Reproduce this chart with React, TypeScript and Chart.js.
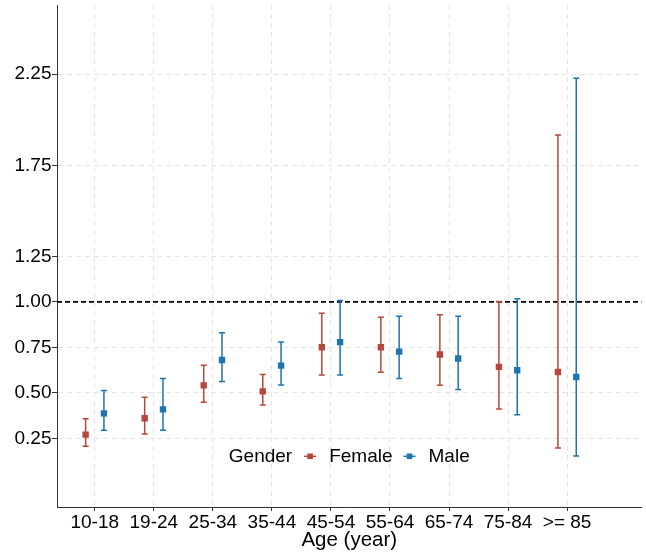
import React, { useEffect, useRef } from "react";
import { Chart, registerables } from "chart.js";

Chart.register(...registerables);

const categories = ["10-18", "19-24", "25-34", "35-44", "45-54", "55-64", "65-74", "75-84", ">= 85"];
const groupNames = ["Female", "Male"];
const femaleEstimate = [0.271, 0.361, 0.542, 0.509, 0.751, 0.751, 0.711, 0.643, 0.615];
const femaleLower = [0.207, 0.275, 0.449, 0.434, 0.599, 0.614, 0.542, 0.412, 0.198];
const femaleUpper = [0.359, 0.476, 0.652, 0.601, 0.938, 0.916, 0.929, 1.002, 1.916];
const maleEstimate = [0.388, 0.41, 0.681, 0.65, 0.779, 0.727, 0.689, 0.625, 0.588];
const maleLower = [0.295, 0.295, 0.563, 0.544, 0.599, 0.579, 0.519, 0.381, 0.154];
const maleUpper = [0.513, 0.579, 0.83, 0.78, 1.008, 0.921, 0.921, 1.017, 2.228];
const yTicks = [0.25, 0.5, 0.75, 1.0, 1.25, 1.75, 2.25];
const referenceValue = 1.0;
const legendTitle = "Gender";
const xTitle = "Age (year)";

const FEMALE_COLOR = "#B5473A";
const MALE_COLOR = "#1C74B0";
const FONT = "'Liberation Sans', Arial, sans-serif";
const FONT_SIZE = 19;
const DODGE = 0.155;

const errorBarPlugin = {
  id: "errorBars",
  beforeDatasetsDraw(chart: any) {
    const { ctx, chartArea, scales } = chart;
    const y = scales.y;
    const yr = y.getPixelForValue(referenceValue);
    ctx.save();
    ctx.strokeStyle = "#000";
    ctx.lineWidth = 1.6;
    ctx.setLineDash([5, 3]);
    ctx.beginPath();
    ctx.moveTo(chartArea.left, yr);
    ctx.lineTo(chartArea.right, yr);
    ctx.stroke();
    ctx.restore();

    chart.data.datasets.forEach((ds: any, di: number) => {
      const meta = chart.getDatasetMeta(di);
      ctx.save();
      ctx.strokeStyle = ds.borderColor;
      ctx.lineWidth = 1.5;
      meta.data.forEach((el: any, i: number) => {
        const raw = ds.data[i];
        const x = el.x;
        const yl = y.getPixelForValue(raw.lo);
        const yh = y.getPixelForValue(raw.hi);
        ctx.beginPath();
        ctx.moveTo(x, yl);
        ctx.lineTo(x, yh);
        ctx.moveTo(x - 3, yl);
        ctx.lineTo(x + 3, yl);
        ctx.moveTo(x - 3, yh);
        ctx.lineTo(x + 3, yh);
        ctx.stroke();
      });
      ctx.restore();
    });
  },
};

const legendPlugin = {
  id: "innerLegend",
  afterDraw(chart: any) {
    const { ctx, chartArea } = chart;
    ctx.save();
    ctx.font = `${FONT_SIZE}px ${FONT}`;
    ctx.fillStyle = "#000";
    ctx.textBaseline = "middle";
    const titleW = ctx.measureText(legendTitle).width;
    const symW = 12;
    const gapTitle = 12;
    const gapSym = 13;
    const gapItem = 11;
    const items = chart.data.datasets.map((ds: any) => ({
      label: ds.label,
      color: ds.borderColor,
      w: ctx.measureText(ds.label).width,
    }));
    let total = titleW + gapTitle;
    items.forEach((it: any, k: number) => {
      total += symW + gapSym + it.w + (k < items.length - 1 ? gapItem : 0);
    });
    const cy = chartArea.top + 0.899 * (chartArea.bottom - chartArea.top);
    let x = (chartArea.left + chartArea.right) / 2 - total / 2;
    ctx.textAlign = "left";
    ctx.fillText(legendTitle, x, cy);
    x += titleW + gapTitle;
    items.forEach((it: any) => {
      ctx.strokeStyle = it.color;
      ctx.fillStyle = it.color;
      ctx.lineWidth = 1.5;
      ctx.beginPath();
      ctx.moveTo(x, cy);
      ctx.lineTo(x + symW, cy);
      ctx.stroke();
      ctx.fillRect(x + symW / 2 - 2.8, cy - 2.8, 5.6, 5.6);
      x += symW + gapSym;
      ctx.fillStyle = "#000";
      ctx.fillText(it.label, x, cy);
      x += it.w + gapItem;
    });
    ctx.restore();
  },
};

const bgPlugin = {
  id: "bg",
  beforeDraw(chart: any) {
    const { ctx, width, height } = chart;
    ctx.save();
    ctx.fillStyle = "#fff";
    ctx.fillRect(0, 0, width, height);
    ctx.restore();
  },
};

function buildSeries(est: number[], lo: number[], hi: number[], offset: number) {
  return est.map((v, i) => ({ x: i + offset, y: v, lo: lo[i], hi: hi[i] }));
}

export default function App() {
  const ref = useRef<HTMLCanvasElement | null>(null);

  useEffect(() => {
    if (!ref.current) return;
    const gridCommon = {
      color: "#e4e4e4",
      lineWidth: 1,
      tickLength: 5,
      tickColor: "#333",
      tickWidth: 1,
    };
    const borderCommon = { display: true, color: "#333", width: 1, dash: [5, 4] };
    const chart = new Chart(ref.current, {
      type: "scatter",
      data: {
        datasets: [
          {
            label: groupNames[0],
            data: buildSeries(femaleEstimate, femaleLower, femaleUpper, -DODGE),
            backgroundColor: FEMALE_COLOR,
            borderColor: FEMALE_COLOR,
            pointStyle: "rect",
            pointRadius: 4.5,
            borderWidth: 0,
          },
          {
            label: groupNames[1],
            data: buildSeries(maleEstimate, maleLower, maleUpper, DODGE),
            backgroundColor: MALE_COLOR,
            borderColor: MALE_COLOR,
            pointStyle: "rect",
            pointRadius: 4.5,
            borderWidth: 0,
          },
        ] as any,
      },
      options: {
        animation: false,
        responsive: false,
        devicePixelRatio: 1,
        layout: { padding: { top: 5, left: 0, right: 0, bottom: 0 } },
        plugins: { legend: { display: false }, tooltip: { enabled: false } },
        scales: {
          x: {
            type: "linear",
            min: -0.64,
            max: 9.26,
            afterBuildTicks: (s: any) => {
              s.ticks = categories.map((_, i) => ({ value: i }));
            },
            afterFit: (s: any) => {
              s.height = 47;
              s.paddingLeft = 0;
              s.paddingRight = 0;
            },
            ticks: {
              autoSkip: false,
              maxRotation: 0,
              padding: 0,
              color: "#000",
              font: { family: FONT, size: FONT_SIZE },
              callback: (v: any) => categories[Math.round(Number(v))] ?? "",
            },
            grid: { ...gridCommon, tickLength: 4 },
            border: borderCommon,
            title: {
              display: true,
              text: xTitle,
              color: "#000",
              font: { family: FONT, size: 20.5 },
              padding: { top: 0, bottom: 1 },
            },
          },
          y: {
            type: "linear",
            min: -0.126,
            max: 2.63,
            afterBuildTicks: (s: any) => {
              s.ticks = yTicks.map((v) => ({ value: v }));
            },
            afterFit: (s: any) => {
              s.width = 57;
              s.paddingTop = 0;
              s.paddingBottom = 0;
            },
            ticks: {
              padding: 0.5,
              color: "#000",
              font: { family: FONT, size: FONT_SIZE },
              callback: (v: any) => Number(v).toFixed(2),
            },
            grid: gridCommon,
            border: borderCommon,
          },
        },
      } as any,
      plugins: [bgPlugin, errorBarPlugin, legendPlugin],
    });
    return () => chart.destroy();
  }, []);

  return (
    <div style={{ position: "absolute", left: 0, top: 0, width: 646, height: 554, background: "#fff" }}>
      <canvas ref={ref} width={646} height={554} style={{ display: "block" }} />
    </div>
  );
}
